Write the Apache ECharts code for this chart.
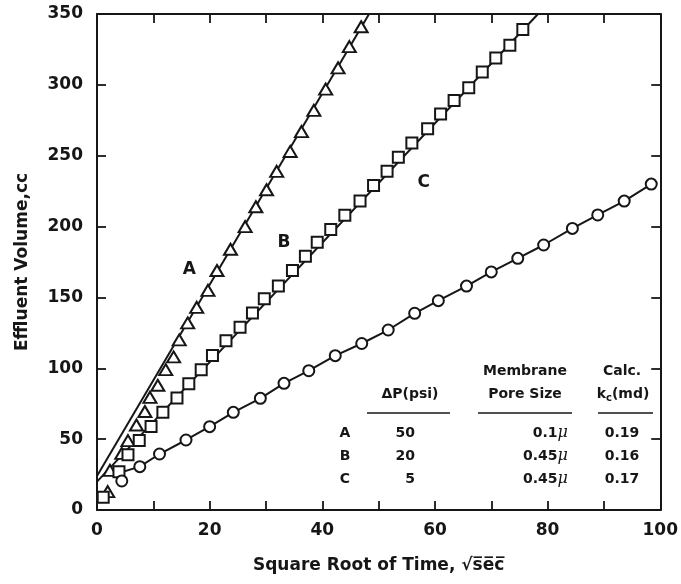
<!DOCTYPE html>
<html>
<head>
<meta charset="utf-8">
<script src="https://cdn.jsdelivr.net/npm/echarts@6/dist/echarts.min.js"></script>
<style>
html,body{margin:0;padding:0;background:#fff;}
#chart{width:681px;height:584px;}
</style>
</head>
<body>
<div id="chart"></div>
<script>
// x = sqrt(sec), y = effluent volume cc
var xLabels = [0, 20, 40, 60, 80, 100];
var yLabels = [0, 50, 100, 150, 200, 250, 300, 350];

var pointsA = [[1.9,13],[2.3,28],[4.4,40],[5.5,49],[7,60],[8.5,69.5],[9.4,79.5],[10.8,88],[12.2,99],[13.6,108],[14.6,120],[16.1,132],[17.7,143],[19.7,155],[21.3,169],[23.7,184],[26.3,200],[28.2,214],[30.1,226],[31.9,239],[34.3,253],[36.3,267],[38.5,282],[40.6,297],[42.8,312],[44.8,327],[46.9,341]];
var pointsB = [[1.1,9],[3.9,27],[5.5,39],[7.5,49],[9.6,59],[11.7,69],[14.2,79],[16.3,89],[18.5,99],[20.5,109],[22.9,119.5],[25.4,129],[27.6,139],[29.7,149],[32.2,158],[34.7,169],[37,179],[39.1,189],[41.5,198],[44,208],[46.7,218],[49.1,229],[51.5,239],[53.5,249],[55.9,259],[58.7,269],[61,279.5],[63.4,289],[66,298],[68.4,309],[70.8,319],[73.3,328],[75.6,339]];
var pointsC = [[4.4,20.5],[7.6,30.6],[11.1,39.5],[15.8,49.4],[20,58.8],[24.2,68.9],[29,78.8],[33.2,89.4],[37.6,98.3],[42.3,108.9],[47,117.5],[51.7,127],[56.4,138.8],[60.6,147.7],[65.6,158],[70,168],[74.7,177.6],[79.3,187],[84.4,198.7],[88.9,208.2],[93.6,218],[98.4,230]];

var lineA = [[0,24],[48.3,350]];
var lineB = [[0,20],[78.3,350]];
var lineC = [[3,25]].concat(pointsC.slice(1));

var curveNames = ['A', 'B', 'C'];
var curveLabelPos = [[16.4,170],[33.2,189],[58,231]];

// table
var tableRows = ['A', 'B', 'C'];
var deltaP = ['50', '20', '5'];
var poreSize = ['0.1', '0.45', '0.45'];
var calcKc = ['0.19', '0.16', '0.17'];

var ink = '#161616';
var fontFam = 'DejaVu Sans';

var my_chart = echarts.init(document.getElementById('chart'));

var graphics = [];
function txt(text, x, y, size, align, rich){
	var el = {
		type: 'text', x: x, y: y, z: 100,
		style: {text: text, fill: ink, font: 'bold ' + size + 'px "' + fontFam + '"', textAlign: align || 'center', textVerticalAlign: 'middle'}
	};
	if (rich) el.style.rich = rich;
	graphics.push(el);
}
function hline(x1, x2, y){
	graphics.push({type: 'line', z: 100, shape: {x1: x1, y1: y, x2: x2, y2: y}, style: {stroke: ink, lineWidth: 1.5}});
}
var mu = {m: {fontFamily: 'DejaVu Serif', fontStyle: 'italic', fontWeight: 'normal', fontSize: 16, fill: ink}};
txt('Membrane', 525, 371, 14);
txt('Calc.', 622, 371, 14);
txt('\u0394P(psi)', 410, 394, 14);
txt('Pore Size', 525, 394, 14);
txt('{a|k}{b|c}{a|(md)}', 623, 394, 14, 'center', {
	a: {font: 'bold 14px "' + fontFam + '"', fill: ink, lineHeight: 20},
	b: {font: 'bold 10px "' + fontFam + '"', fill: ink, lineHeight: 20, padding: [9, 0, 0, 0]}
});
hline(367, 450, 413);
hline(478, 572, 413);
hline(598, 653, 413);
for (var i = 0; i < tableRows.length; i++){
	var yy = 433 + i * 23;
	txt(tableRows[i], 345, yy, 14);
	txt(deltaP[i], 415, yy, 14, 'right');
	txt(poreSize[i] + '{m|\u03bc}', 568, yy, 14, 'right', mu);
	txt(calcKc[i], 622, yy, 14);
}

function axisPair(kind, interval, labelSet){
	var base = {
		type: 'value', min: 0, max: kind === 'x' ? 100 : 350, interval: interval,
		axisLine: {show: true, onZero: false, lineStyle: {color: ink, width: 2}},
		axisTick: {show: true, inside: true, length: 9, lineStyle: {color: ink, width: 1.8}},
		splitLine: {show: false}
	};
	var main = echarts.util.merge({
		axisLabel: {
			color: ink, fontFamily: fontFam, fontWeight: 'bold', fontSize: 17,
			margin: kind === 'x' ? 12 : 14,
			formatter: function(v){ return labelSet.indexOf(v) >= 0 ? String(v) : ''; }
		}
	}, base, true);
	var other = echarts.util.merge({axisLabel: {show: false}}, echarts.util.clone(base), true);
	return [main, other];
}
var xs = axisPair('x', 10, xLabels);
var ys = axisPair('y', 50, yLabels);
xs[0].position = 'bottom';
xs[1].position = 'top';
ys[0].position = 'left';
ys[1].position = 'right';
xs[0].name = 'Square Root of Time, \u221as\u0305e\u0305c\u0305';
xs[0].nameLocation = 'middle';
xs[0].nameGap = 47;
xs[0].nameTextStyle = {color: ink, fontFamily: fontFam, fontWeight: 'bold', fontSize: 17};
ys[0].name = 'Effluent Volume,cc';
ys[0].nameLocation = 'middle';
ys[0].nameGap = 66;
ys[0].nameRotate = 90;
ys[0].nameTextStyle = {color: ink, fontFamily: fontFam, fontWeight: 'bold', fontSize: 17};

function fitLine(data){
	return {type: 'line', data: data, symbol: 'none', silent: true, z: 2,
		lineStyle: {color: ink, width: 2}};
}
function marks(data, sym, size){
	return {type: 'scatter', data: data, symbol: sym, symbolSize: size, z: 3,
		itemStyle: {color: '#ffffff', opacity: 1, borderColor: ink, borderWidth: 2}};
}

my_chart.setOption({
	backgroundColor: '#fff',
	animation: false,
	grid: {left: 97, right: 18, top: 14, bottom: 74},
	xAxis: xs,
	yAxis: ys,
	graphic: graphics,
	series: [
		fitLine(lineA),
		fitLine(lineB),
		fitLine(lineC),
		marks(pointsA, 'triangle', [13, 11]),
		marks(pointsB, 'rect', 11),
		marks(pointsC, 'circle', 11),
		{
			type: 'scatter', symbolSize: 1, z: 4,
			itemStyle: {opacity: 0},
			data: curveLabelPos.map(function(p, i){ return {value: p, name: curveNames[i]}; }),
			label: {show: true, position: 'inside', formatter: '{b}', color: ink, opacity: 1,
				fontFamily: fontFam, fontWeight: 'bold', fontSize: 17}
		}
	]
});
</script>
</body>
</html>
